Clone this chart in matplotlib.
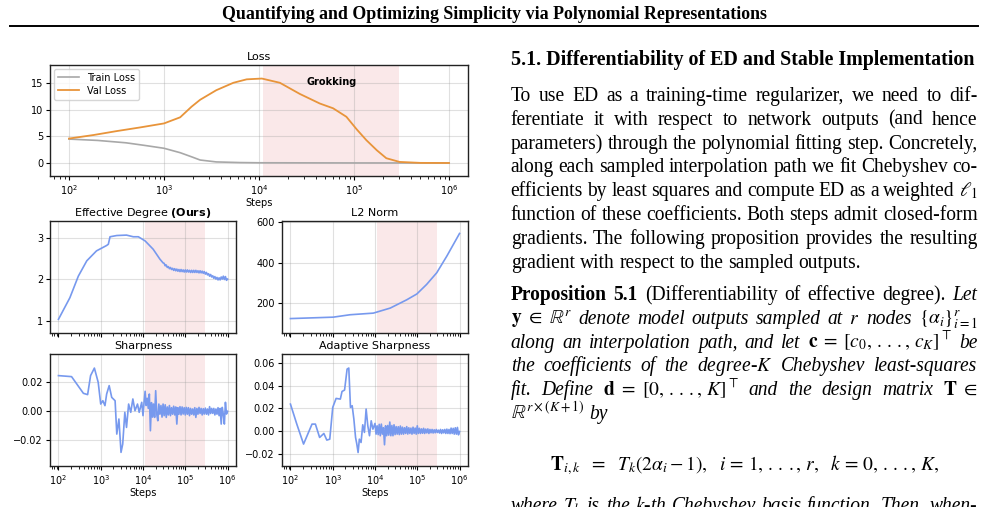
import matplotlib
matplotlib.use("Agg")
import matplotlib.pyplot as plt
from matplotlib.transforms import IdentityTransform
from matplotlib.lines import Line2D
import numpy as np

W, H = 988, 507

# ---------------- data ----------------
# x positions are log10(step)
loss_train_log = [2.0, 2.3, 2.6, 2.8, 3.0, 3.17, 3.3, 3.38, 3.55, 3.8, 4.0, 5.0, 6.0]
loss_train = [4.5, 4.25, 3.8, 3.3, 2.77, 1.94, 1.1, 0.56, 0.2, 0.08, 0.04, 0.01, 0.0]

loss_val_log = [2.0, 2.26, 2.5, 2.75, 3.0, 3.17, 3.29, 3.38, 3.55, 3.73, 3.87, 4.03,
                4.22, 4.43, 4.64, 4.78, 4.92, 5.03, 5.13, 5.24, 5.34, 5.48, 5.7, 6.0]
loss_val = [4.6, 5.27, 6.0, 6.7, 7.45, 8.6, 10.6, 11.9, 13.7, 15.1, 15.75, 15.9,
            15.1, 13.0, 11.2, 10.3, 8.7, 6.3, 4.3, 2.4, 0.9, 0.2, 0.02, 0.0]

# early (smooth) parts of the small panels
ed_log = [2.0, 2.27, 2.47, 2.67, 2.90, 3.14, 3.18, 3.22, 3.38, 3.61, 3.77, 3.89,
          4.05, 4.24, 4.40, 4.475]
ed_val = [1.03, 1.55, 2.07, 2.44, 2.68, 2.81, 2.84, 3.02, 3.05, 3.06, 3.02, 3.02,
          2.92, 2.72, 2.48, 2.39]
# noisy tail, one checkpoint every 0.025 in log10(step) from 1e4.5 to 1e6
ed_tail = [2.38, 2.32, 2.34, 2.28, 2.30, 2.25, 2.28, 2.23, 2.26, 2.21, 2.25, 2.20,
           2.24, 2.19, 2.23, 2.18, 2.23, 2.18, 2.22, 2.17, 2.22, 2.17, 2.22, 2.17,
           2.21, 2.16, 2.21, 2.16, 2.21, 2.16, 2.21, 2.16, 2.20, 2.15, 2.20, 2.15,
           2.19, 2.14, 2.18, 2.12, 2.16, 2.10, 2.13, 2.07, 2.11, 2.05, 2.08, 2.02,
           2.06, 2.00, 2.04, 1.98, 2.03, 1.98, 2.05, 2.00, 2.07, 1.99, 2.06, 1.97,
           2.00]

l2_log = [2.0, 3.01, 3.41, 3.96, 4.36, 4.75, 4.99, 5.22, 5.46, 5.70, 6.0]
l2_val = [123, 130, 142, 150, 175, 216, 245, 292, 350, 433, 545]

sharp_log = [2.0, 2.31, 2.59, 2.69, 2.76, 2.85, 2.94, 3.0, 3.05, 3.10, 3.14, 3.20,
             3.26, 3.34, 3.38, 3.43, 3.48, 3.52, 3.57, 3.61, 3.66, 3.71, 3.76, 3.81,
             3.87, 3.91, 3.97]
sharp_val = [0.0246, 0.0239, 0.0124, 0.0115, 0.0246, 0.0298, 0.0200, 0.0050, 0.0073,
             0.0039, 0.0119, 0.0177, 0.0096, 0.0073, -0.0157, -0.0053, -0.0283,
             -0.0226, -0.0007, -0.0111, 0.0050, -0.0007, 0.0085, 0.0004, 0.0050,
             -0.0007, 0.0062]
# noisy tail, every 0.025 in log10(step) from 1e4 to 1e6 (values x1e-3)
sharp_tail = [-3.0, 6.0, 13.8, 4.0, 9.0, 2.0, 11.9, -13.4, 6.0, -4.0, 5.0, -4.2,
              14.2, -2.0, -6.5, 5.0, -2.0, 4.0, -4.0, 5.0, -3.0, 4.5, -4.2, 3.0,
              -2.5, 4.0, -3.0, 2.5, -2.0, 3.5, -2.5, 3.0, -8.8, 2.5, -2.0, 3.2,
              -2.5, 3.0, -1.9, 2.5, -2.5, 2.7, -2.0, 2.5, -3.0, 2.0, -2.0, 1.6,
              -2.5, 2.5, -4.2, 2.0, -2.0, 2.7, -1.5, 2.0, -2.5, 1.8, -1.9, 2.2,
              -2.0, 1.6, -2.5, 3.2, -1.5, 2.0, -1.4, 2.0, -2.5, 1.6, -2.0, 2.5,
              -3.0, 2.0, -8.8, 2.7, -2.0, -8.8, 6.2, -1.9, 0.0]

asharp_log = [2.0, 2.15, 2.31, 2.51, 2.59, 2.69, 2.79, 2.86, 2.93, 3.0, 3.08, 3.18,
              3.22, 3.28, 3.34, 3.38, 3.42, 3.46, 3.50, 3.54, 3.57, 3.60, 3.63, 3.67,
              3.71, 3.75, 3.79, 3.83, 3.87, 3.91, 3.95]
asharp_val = [0.0237, 0.0062, -0.0113, 0.0062, 0.0062, -0.0055, -0.0020, -0.0078,
              -0.0070, 0.0208, 0.0287, 0.0281, 0.0348, 0.0360, 0.0544, 0.0553, 0.0208,
              0.0223, 0.0106, -0.0055, -0.0113, -0.0187, -0.0070, -0.0099, 0.0056,
              -0.0011, 0.0194, 0.0047, -0.0040, 0.0091, 0.0018]
asharp_tail = [6.8, -2.6, 4.7, -3.0, 6.0, -4.0, 6.2, -2.6, 3.0, -11.9, 4.7, -4.0,
               5.0, -3.5, 8.0, -4.0, 5.0, -4.0, 5.6, -3.0, 4.0, -2.6, 3.9, -3.0,
               4.5, -2.6, 3.5, -2.6, 3.0, -2.0, 4.0, -2.5, 3.0, -2.0, 2.7, -2.6,
               3.5, -2.0, 2.7, -2.6, 4.7, -2.0, 2.5, -2.0, 2.0, -1.8, 2.5, -2.0,
               1.8, -1.5, 2.0, -2.0, 1.5, -1.4, 1.5, -1.6, 1.2, -1.4, 1.5, -1.2,
               0.9, -1.6, 1.5, -2.0, 1.2, -1.5, 1.5, -2.0, 1.8, -2.0, 1.5, -2.2,
               2.7, -2.0, 2.5, -2.6, 3.0, -2.6, 3.3, -3.2, -0.3]

GROK = (1.1e4, 3e5)

BLUE = "#7799ee"
ORANGE = "#e8943a"
GRAY = "#a8a8a8"

plt.rcParams["font.family"] = ["DejaVu Sans"]
fig = plt.figure(figsize=(W / 100, H / 100), dpi=100)


def px_axes(x0, y0, x1, y1):
    """axes from a pixel box (top-left origin)"""
    return fig.add_axes([x0 / W, (H - y1) / H, (x1 - x0) / W, (y1 - y0) / H])


def style(ax, ylim, yticks, labels=True, xlabel=True):
    ax.set_xscale("log")
    ax.set_xlim(10 ** 1.8, 10 ** 6.2)
    ax.set_ylim(*ylim)
    ax.set_yticks(yticks)
    ax.axvspan(*GROK, color="#d62728", alpha=0.1, lw=0, zorder=0)
    ax.grid(True, which="major", color="#999999", alpha=0.3, lw=0.8)
    ax.tick_params(labelsize=7, length=3, pad=2, width=0.8)
    ax.tick_params(which="minor", length=1.8, width=0.6)
    for s in ax.spines.values():
        s.set_linewidth(1.0)
        s.set_color("#222222")
    if not labels:
        ax.tick_params(labelbottom=False)
    if xlabel:
        ax.set_xlabel("Steps", fontsize=7, labelpad=1)


def steps(lg):
    return 10 ** np.asarray(lg, dtype=float)


def tail_steps(start, n):
    return 10 ** (start + 0.025 * np.arange(n))


ax = px_axes(50, 65, 468, 176)
ax.plot(steps(loss_train_log), loss_train, color=GRAY, lw=1.2, label="Train Loss")
ax.plot(steps(loss_val_log), loss_val, color=ORANGE, lw=1.3, label="Val Loss")
style(ax, (-2.45, 18.45), [0, 5, 10, 15])
ax.set_title("Loss", fontsize=8, pad=3.5)
ax.text(np.sqrt(GROK[0] * GROK[1]), 15.3, "Grokking", fontsize=7, fontweight="bold",
        ha="center", va="center")
ax.legend(loc="upper left", fontsize=7, handlelength=2.2, borderaxespad=0.4,
          framealpha=0.8, borderpad=0.4, labelspacing=0.3)

ax = px_axes(50, 221, 236, 333)
x = np.concatenate([steps(ed_log), tail_steps(4.5, len(ed_tail))])
ax.plot(x, ed_val + ed_tail, color=BLUE, lw=1.2)
style(ax, (0.70, 3.40), [1, 2, 3], labels=False, xlabel=False)
ax.set_title(r"Effective Degree $\mathbf{(Ours)}$", fontsize=8, pad=3.5)

ax = px_axes(282, 221, 468, 333)
ax.plot(steps(l2_log), l2_val, color=BLUE, lw=1.2)
style(ax, (51.5, 606.7), [200, 400, 600], labels=False, xlabel=False)
ax.set_title("L2 Norm", fontsize=8, pad=3.5)

ax = px_axes(50, 354, 236, 466)
x = np.concatenate([steps(sharp_log), tail_steps(4.0, len(sharp_tail))])
y = np.concatenate([sharp_val, np.array(sharp_tail) * 1e-3])
ax.plot(x, y, color=BLUE, lw=1.2)
style(ax, (-0.0377, 0.0395), [-0.02, 0.0, 0.02])
ax.set_title("Sharpness", fontsize=8, pad=3.5)

ax = px_axes(282, 354, 468, 466)
x = np.concatenate([steps(asharp_log), tail_steps(4.0, len(asharp_tail))])
y = np.concatenate([asharp_val, np.array(asharp_tail) * 1e-3])
ax.plot(x, y, color=BLUE, lw=1.2)
style(ax, (-0.0305, 0.0676), [-0.02, 0.0, 0.02, 0.04, 0.06])
ax.set_title("Adaptive Sharpness", fontsize=8, pad=3.5)

# ---------------- page text ----------------
SERIF = "Liberation Serif"
renderer = fig.canvas.get_renderer()
X0, X1 = 510.7, 977.5


def ptext(x, y, s, size=12, st="r", **kw):
    kw.setdefault("ha", "left")
    return fig.text(x, H - y, s, transform=IdentityTransform(), family=SERIF,
                    fontsize=size, math_fontfamily="stix", va="baseline",
                    fontweight="bold" if st == "b" else "normal",
                    fontstyle="italic" if st == "i" else "normal", **kw)


def fit(t, target):
    w = t.get_window_extent(renderer).width
    t.set_fontsize(t.get_fontsize() * target / w)
    return t.get_fontsize()


def split_words(s):
    out, cur, inmath = [], "", False
    for ch in s:
        if ch == "$":
            inmath = not inmath
        if ch == " " and not inmath:
            if cur:
                out.append(cur)
            cur = ""
        else:
            cur += ch
    if cur:
        out.append(cur)
    return out


def line(y, segs, size, justify=True):
    words = []
    for s, st in segs:
        words += [(w, st) for w in split_words(s)]
    arts = [ptext(0, y, w, size, st) for w, st in words]
    widths = [a.get_window_extent(renderer).width for a in arts]
    if justify and len(arts) > 1:
        gap = (X1 - X0 - sum(widths)) / (len(arts) - 1)
    else:
        gap = 0.25 * size * 100 / 72
    x = X0
    for a, w in zip(arts, widths):
        a.set_x(x)
        x += w + gap


header = ptext(494.5, 19, "Quantifying and Optimizing Simplicity via Polynomial Representations",
               size=12, st="b", ha="center")
fit(header, 540)
fig.add_artist(Line2D([10, 978], [H - 25.5, H - 25.5], transform=IdentityTransform(),
                      color="black", lw=1.4))

heading = ptext(X0, 65, "5.1. Differentiability of ED and Stable Implementation", size=12, st="b")
fit(heading, 462)

# body size chosen so the unjustified last line has the reference width
probe = ptext(X0, 0, "gradient with respect to the sampled outputs.", size=12)
BODY = fit(probe, 350)
probe.remove()

DOTS = r".\,.\,."
body = [
    "To use ED as a training-time regularizer, we need to dif-",
    "ferentiate it with respect to network outputs (and hence",
    "parameters) through the polynomial fitting step. Concretely,",
    "along each sampled interpolation path we fit Chebyshev co-",
    r"efficients by least squares and compute ED as a weighted $\ell_1$",
    "function of these coefficients. Both steps admit closed-form",
    "gradients. The following proposition provides the resulting",
]
for i, s in enumerate(body):
    line(101 + 23.8 * i, [(s, "r")], BODY)
line(101 + 23.8 * 7, [("gradient with respect to the sampled outputs.", "r")], BODY,
     justify=False)

prop = [
    [("Proposition 5.1", "b"), ("(Differentiability of effective degree).", "r"), ("Let", "i")],
    [(r"$\mathbf{y}\ \in\ \mathbb{R}^r$", "r"), ("denote model outputs sampled at $r$ nodes", "i"),
     (r"$\{\alpha_i\}_{i=1}^r$", "r")],
    [("along an interpolation path, and let", "i"),
     (r"$\mathbf{c}\;=\;[c_0,\," + DOTS + r",\,c_K]^\top$", "r"), ("be", "i")],
    [("the coefficients of the degree-$K$ Chebyshev least-squares", "i")],
    [("fit. Define", "i"), (r"$\mathbf{d}\ =\ [0,\," + DOTS + r",\,K]^\top$", "r"),
     ("and the design matrix", "i"), (r"$\mathbf{T}\ \in$", "r")],
]
for i, segs in enumerate(prop):
    line(300 + 23.8 * i, segs, BODY)
line(300 + 23.8 * 5, [(r"$\mathbb{R}^{r\times(K+1)}$", "r"), ("by", "i")], BODY, justify=False)

eq = ptext(745, 470, r"$\mathbf{T}_{i,k}\ \ =\ \ T_k(2\alpha_i-1),\ \ i\,=\,1,\," + DOTS
           + r",\,r,\ \ k\,=\,0,\," + DOTS + r",\,K,$", size=BODY, ha="center")
line(511, [("where $T_k$ is the $k$-th Chebyshev basis function. Then, when-", "i")], BODY)

fig.savefig("out.png", dpi=100)
